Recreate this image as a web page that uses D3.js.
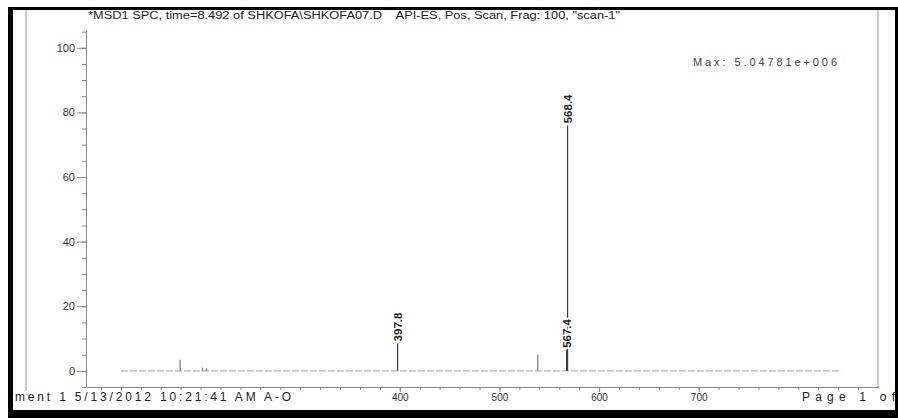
<!DOCTYPE html>
<html>
<head>
<meta charset="utf-8">
<script src="https://cdn.jsdelivr.net/npm/d3@7"></script>
<style>
  body { margin: 0; background: #fff; }
  svg text { font-family: "Liberation Sans", Arial, sans-serif; }
</style>
</head>
<body>
<div id="chart"></div>
<script>
// Header / footer texts
const titleText = '*MSD1 SPC, time=8.492 of SHKOFA\\SHKOFA07.D    API-ES, Pos, Scan, Frag: 100, "scan-1"';
const maxText = "Max: 5.04781e+006";
const footerLeft = "ment 1 5/13/2012 10:21:41 AM A-O";
const footerRight = "Page 1 of";

// Spectrum peaks (m/z, relative abundance %)
const peakMz = [179.5, 202, 206, 397.8, 538.5, 567.4, 568.4];
const peakAbund = [3.4, 1.0, 0.8, 8.5, 5.0, 6.5, 76];
const peakLabels = ["", "", "", "397.8", "", "567.4", "568.4"];

// Scan range drawn as baseline
const scanRange = [120, 843];

// Tick labels
const xTickLabels = [400, 500, 600, 700];
const yTickLabels = [0, 20, 40, 60, 80, 100];

const W = 898, H = 418;

const svg = d3.select("#chart")
  .append("svg")
  .attr("width", W)
  .attr("height", H);

// Black scan border
svg.append("rect").attr("x", 8).attr("y", 7).attr("width", W - 8).attr("height", H - 7).attr("fill", "#000");
svg.append("rect").attr("x", 13).attr("y", 10).attr("width", 882).attr("height", 400).attr("fill", "#fff");

// Thin gray page frame
svg.append("line").attr("x1", 26).attr("x2", 26).attr("y1", 10).attr("y2", 392).attr("stroke", "#999");
svg.append("line").attr("x1", 878).attr("x2", 878).attr("y1", 10).attr("y2", 388).attr("stroke", "#999");

// Scales
const x = d3.scaleLinear().domain([85, 880]).range([86, 878]);
const y = d3.scaleLinear().domain([-5, 105.5]).range([387, 30]);

// Y axis: minor then major ticks
const yMinor = svg.append("g")
  .attr("transform", "translate(86,0)")
  .call(d3.axisLeft(y).tickValues(d3.range(-5, 106, 5)).tickSize(4).tickFormat(""));
yMinor.select(".domain").remove();
yMinor.selectAll("line").attr("stroke", "#888");

const yAxis = svg.append("g")
  .attr("transform", "translate(86,0)")
  .call(d3.axisLeft(y).tickValues(yTickLabels).tickSize(9).tickPadding(2).tickSizeOuter(0));
yAxis.select(".domain").attr("stroke", "#888");
yAxis.selectAll("line").attr("stroke", "#888");
yAxis.selectAll("text").attr("font-size", 11).attr("fill", "#333")
  .attr("font-family", "Liberation Sans, Arial, sans-serif");

// X axis
const xMinor = svg.append("g")
  .attr("transform", "translate(0,387)")
  .call(d3.axisBottom(x).tickValues(d3.range(100, 880, 20)).tickSize(3).tickFormat(""));
xMinor.select(".domain").remove();
xMinor.selectAll("line").attr("stroke", "#888");

const xAxis = svg.append("g")
  .attr("transform", "translate(0,387)")
  .call(d3.axisBottom(x).tickValues(xTickLabels).tickSize(5).tickPadding(2).tickSizeOuter(0));
xAxis.select(".domain").attr("stroke", "#888");
xAxis.selectAll("line").attr("stroke", "#888");
xAxis.selectAll("text").attr("font-size", 10).attr("fill", "#333")
  .attr("font-family", "Liberation Sans, Arial, sans-serif");

// Baseline of the spectrum
svg.append("line")
  .attr("x1", x(scanRange[0])).attr("x2", x(scanRange[1]))
  .attr("y1", y(0)).attr("y2", y(0))
  .attr("stroke", "#b5b5b5")
  .attr("stroke-width", 1.2)
  .attr("stroke-dasharray", "7,2");

// Peak sticks
const peaks = peakMz.map((mz, i) => ({ mz, ab: peakAbund[i], label: peakLabels[i] }));

svg.selectAll(".peak")
  .data(peaks)
  .enter()
  .append("line")
  .attr("class", "peak")
  .attr("x1", d => x(d.mz)).attr("x2", d => x(d.mz))
  .attr("y1", y(0)).attr("y2", d => y(d.ab))
  .attr("stroke", d => d.ab < 6 ? "#777" : "#3a3a3a")
  .attr("stroke-width", 1.2);

// Peak labels, rotated
svg.selectAll(".plabel")
  .data(peaks.filter(d => d.label))
  .enter()
  .append("text")
  .attr("class", "plabel")
  .attr("transform", d => `translate(${x(d.mz) + 4},${y(d.ab) - 2}) rotate(-90)`)
  .attr("font-size", 11.5)
  .attr("font-weight", "bold")
  .attr("fill", "#222")
  .attr("stroke", "#fff")
  .attr("stroke-width", 3)
  .attr("paint-order", "stroke")
  .text(d => d.label);

// Title
svg.append("text")
  .attr("x", 88).attr("y", 19)
  .attr("font-size", 10)
  .attr("fill", "#222")
  .style("white-space", "pre")
  .attr("textLength", 532)
  .attr("lengthAdjust", "spacingAndGlyphs")
  .text(titleText);

// Max annotation
svg.append("text")
  .attr("x", 693).attr("y", 66)
  .attr("font-family", "Liberation Mono, monospace")
  .attr("font-size", 11)
  .attr("fill", "#444")
  .attr("textLength", 144)
  .attr("lengthAdjust", "spacing")
  .text(maxText);

// Footer with white background over axis
svg.append("rect").attr("x", 13).attr("y", 391).attr("width", 282).attr("height", 14).attr("fill", "#fff");
svg.append("text")
  .attr("x", 15).attr("y", 401)
  .attr("font-family", "Liberation Mono, monospace")
  .attr("font-size", 12)
  .attr("fill", "#222")
  .attr("textLength", 276)
  .attr("lengthAdjust", "spacing")
  .text(footerLeft);

svg.append("text")
  .attr("x", 802).attr("y", 401)
  .attr("font-family", "Liberation Mono, monospace")
  .attr("font-size", 12)
  .attr("fill", "#222")
  .attr("textLength", 93)
  .attr("lengthAdjust", "spacing")
  .text(footerRight);
</script>
</body>
</html>
